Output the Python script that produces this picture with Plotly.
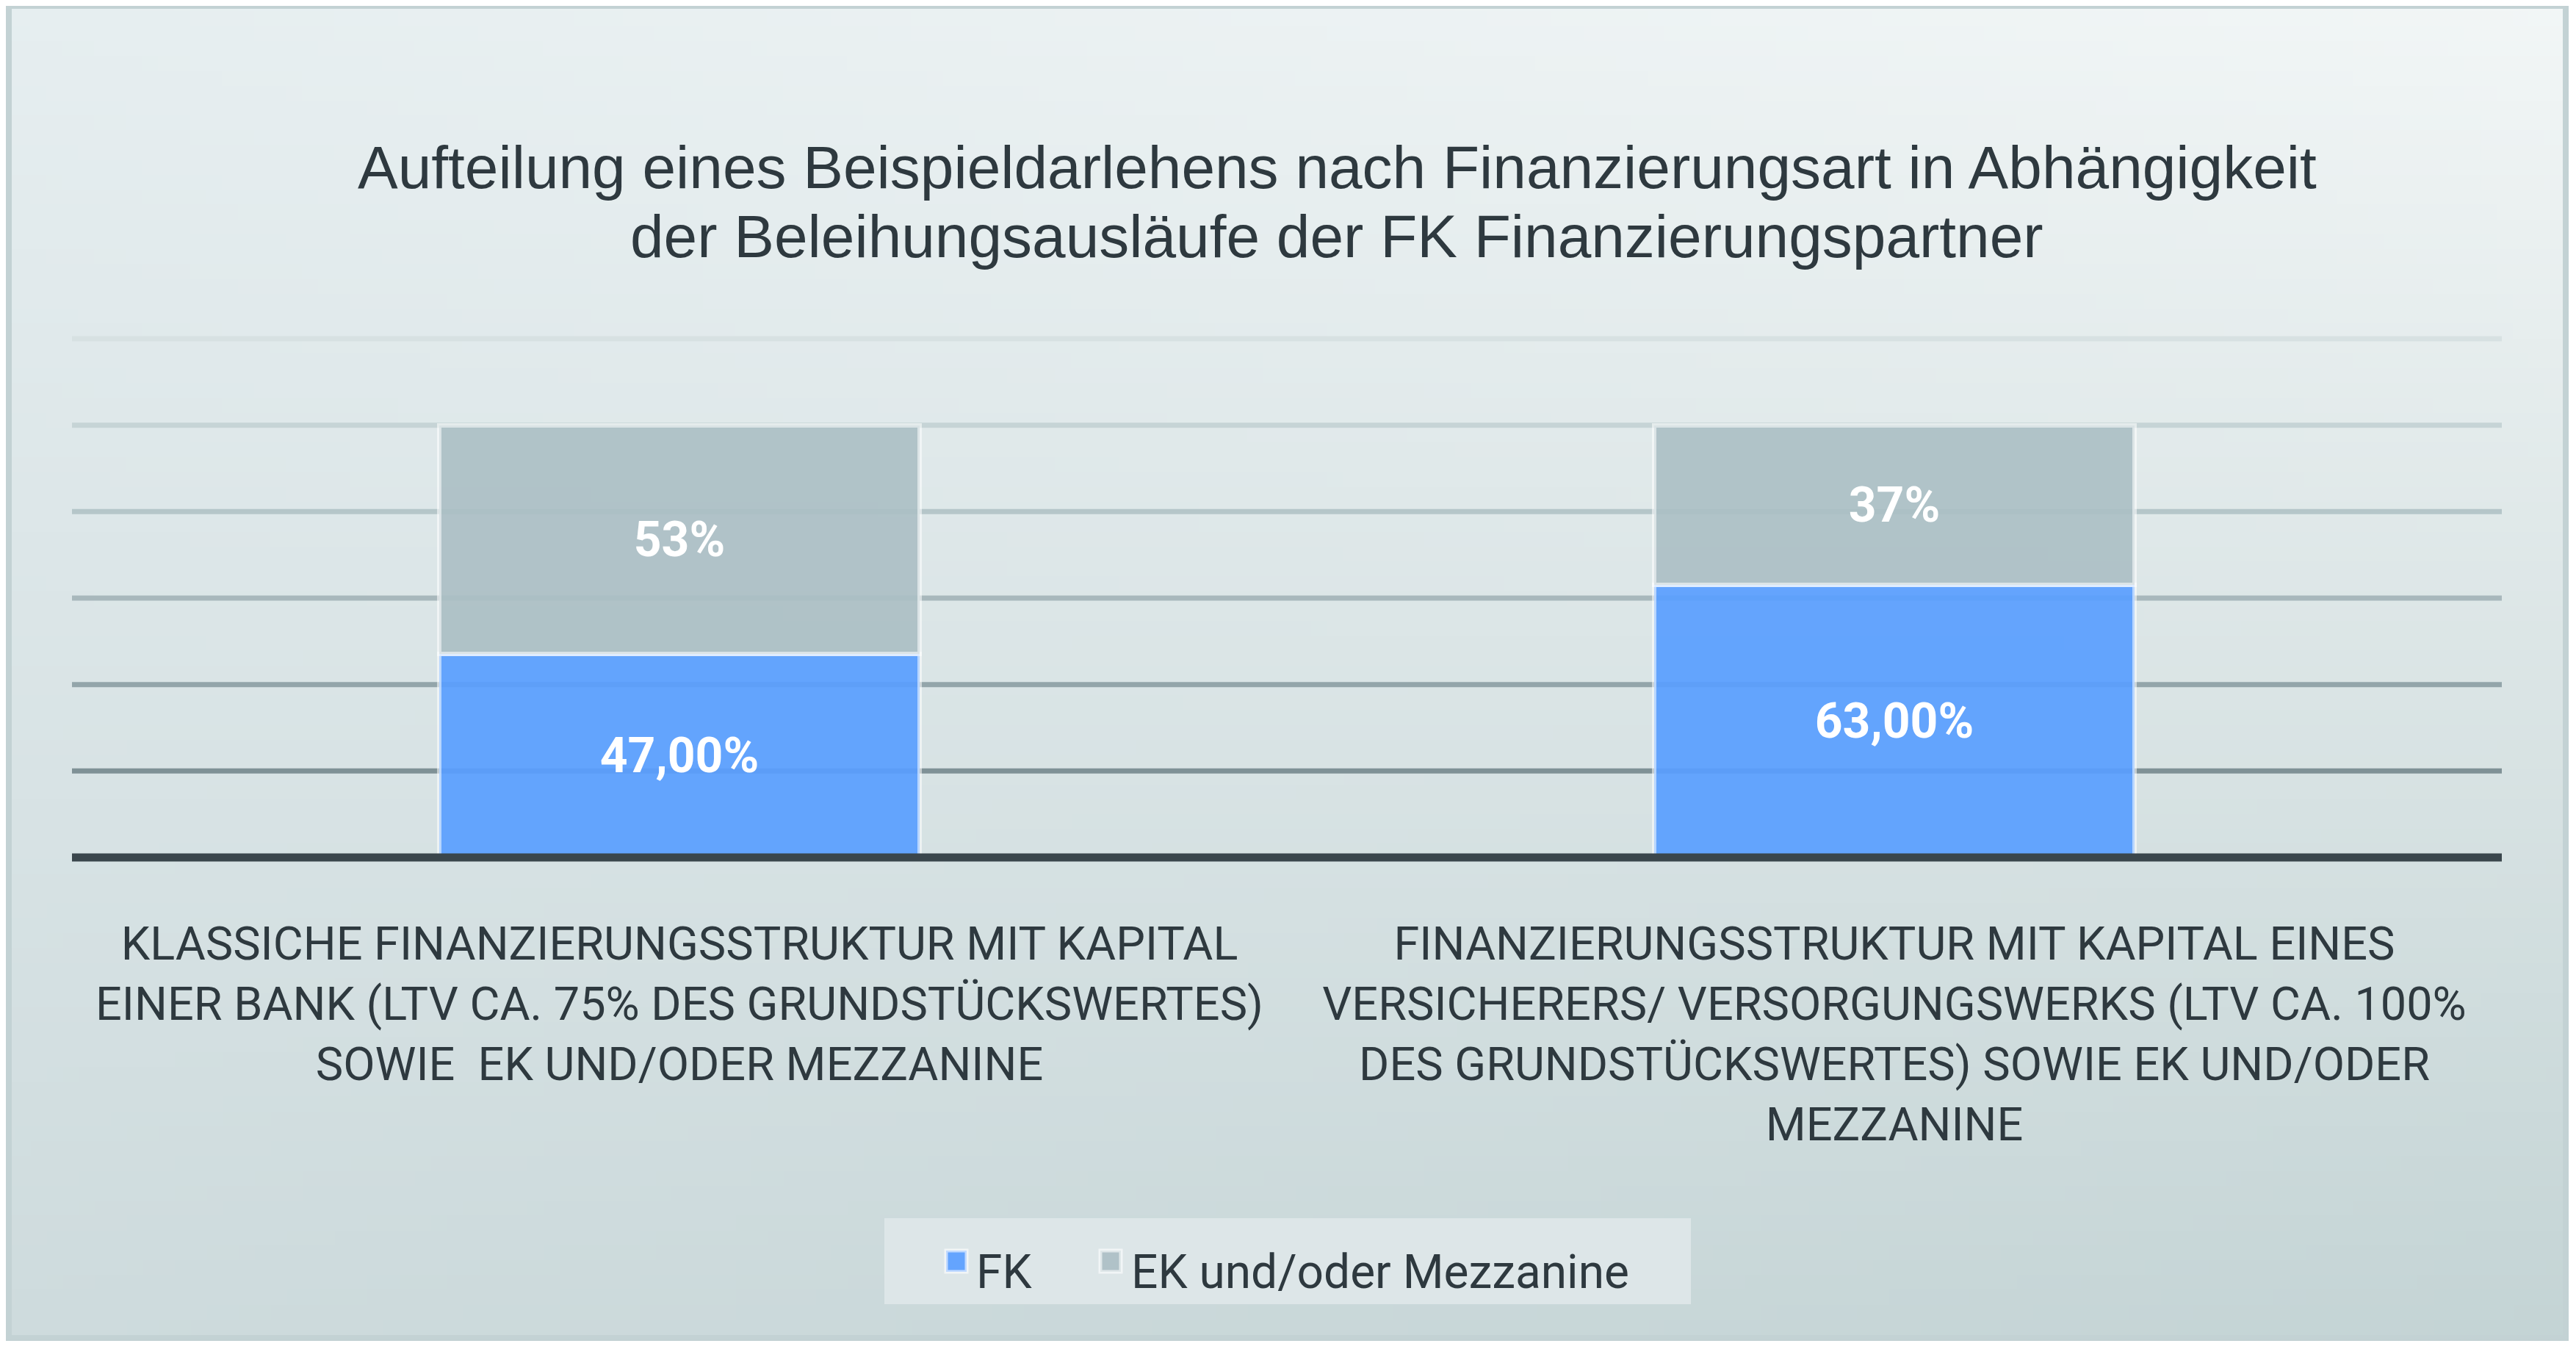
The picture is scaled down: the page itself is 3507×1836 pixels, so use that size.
import base64
import struct
import zlib
import plotly.graph_objects as go

# ---------------- data ----------------
categories = [
    "KLASSICHE FINANZIERUNGSSTRUKTUR MIT KAPITAL<br>EINER BANK (LTV CA. 75% DES GRUNDSTÜCKSWERTES)<br>SOWIE\u00a0 EK UND/ODER MEZZANINE",
    "FINANZIERUNGSSTRUKTUR MIT KAPITAL EINES<br>VERSICHERERS/ VERSORGUNGSWERKS (LTV CA. 100%<br>DES GRUNDSTÜCKSWERTES) SOWIE EK UND/ODER<br>MEZZANINE",
]
series_names = ["FK", "EK und/oder Mezzanine"]
fk_values = [0.47, 0.63]
ek_values = [0.53, 0.37]
fk_labels = ["47,00%", "63,00%"]
ek_labels = ["53%", "37%"]
y_ticks = [0.2, 0.4, 0.6, 0.8, 1.0, 1.2]
y_max = 1.2
title_lines = [
    "Aufteilung eines Beispieldarlehens nach Finanzierungsart in Abhängigkeit",
    "der Beleihungsausläufe der FK Finanzierungspartner",
]

# ---------------- styling ----------------
OFF = 8                      # page body margin of the html page
W, H = 3507 - OFF, 1836 - OFF
ML, MR, MT, MB = 98 - OFF, 101, 461 - OFF, 669
PW, PH = W - ML - MR, H - MT - MB
SANS = "Roboto, Liberation Sans, sans-serif"
ARIAL = "Liberation Sans, Arial, sans-serif"
TEXT_COL = "#2e393f"
FK_COL = "rgba(89,158,255,0.92)"
EK_COL = "rgba(171,191,196,0.92)"
EDGE_COL = "rgba(255,255,255,0.55)"
grid_colors = ["#7f9196", "#93a5aa", "#a8b8bc", "#b5c6c9", "#c6d4d6", "#d7e1e2"]


def xp(px):
    """reference-picture x pixel -> paper fraction"""
    return (px - OFF - ML) / PW


def yp(py):
    """reference-picture y pixel -> paper fraction"""
    return (H - MB - (py - OFF)) / PH


def gradient_png(w, h, tl, tr, bl, br):
    raw = bytearray()
    for j in range(h):
        v = j / (h - 1)
        raw.append(0)
        for i in range(w):
            u = i / (w - 1)
            for k in range(3):
                c = (tl[k] * (1 - u) * (1 - v) + tr[k] * u * (1 - v)
                     + bl[k] * (1 - u) * v + br[k] * u * v)
                raw.append(int(round(c)))

    def chunk(t, d):
        c = struct.pack(">I", len(d)) + t + d
        return c + struct.pack(">I", zlib.crc32(t + d) & 0xFFFFFFFF)

    png = (b"\x89PNG\r\n\x1a\n"
           + chunk(b"IHDR", struct.pack(">IIBBBBB", w, h, 8, 2, 0, 0, 0))
           + chunk(b"IDAT", zlib.compress(bytes(raw), 9))
           + chunk(b"IEND", b""))
    return "data:image/png;base64," + base64.b64encode(png).decode()


bg_src = gradient_png(160, 90,
                      (230, 238, 240), (242, 246, 246),
                      (206, 219, 221), (196, 212, 213))

bar_text_font = dict(family=SANS, size=66, color="white", weight="bold")

fig = go.Figure()
for name, vals, labels, col in [(series_names[0], fk_values, fk_labels, FK_COL),
                                (series_names[1], ek_values, ek_labels, EK_COL)]:
    fig.add_trace(go.Bar(
        name=name, x=categories, y=vals, text=labels,
        marker=dict(color=col, line=dict(color=EDGE_COL, width=6)),
        textposition="inside", insidetextanchor="middle", textangle=0,
        textfont=bar_text_font, hoverinfo="skip", showlegend=False,
    ))

# legend entries; their swatches are drawn larger as shapes below
for name, leg in [(series_names[0], "legend"), (series_names[1], "legend2")]:
    fig.add_trace(go.Scatter(
        name=name, x=[None], y=[None], mode="markers", legend=leg,
        marker=dict(symbol="square", size=16, color="rgba(0,0,0,0)",
                    line=dict(width=0)),
        hoverinfo="skip", showlegend=True,
    ))

shapes = []
# legend box
shapes.append(dict(type="rect", xref="paper", yref="paper",
                   x0=xp(1204), x1=xp(2302), y0=yp(1658), y1=yp(1775),
                   fillcolor="#dde6e8", line=dict(width=0), layer="below"))
# legend swatches
for col, x0 in [(FK_COL, 1288), (EK_COL, 1498)]:
    shapes.append(dict(type="rect", xref="paper", yref="paper",
                       x0=xp(x0), x1=xp(x0 + 28), y0=yp(1702), y1=yp(1731),
                       fillcolor=col, line=dict(color="rgba(255,255,255,0.6)", width=5),
                       layer="below"))
# gridlines
for yv, col in zip(y_ticks, grid_colors):
    shapes.append(dict(type="line", xref="paper", yref="paper", x0=0, x1=1,
                       y0=yv / y_max, y1=yv / y_max, line=dict(color=col, width=7),
                       layer="below"))
# axis line at 0
shapes.append(dict(type="line", xref="paper", yref="paper", x0=0, x1=1, y0=0, y1=0,
                   line=dict(color="#3a464c", width=11), layer="above"))
# frame border
shapes.append(dict(type="rect", xref="paper", yref="paper",
                   x0=xp(12), x1=xp(3493), y0=yp(8), y1=yp(1821),
                   line=dict(color="#c3d2d4", width=8), fillcolor="rgba(0,0,0,0)",
                   layer="below"))

annotations = []
for line, ypx in zip(title_lines, [228, 322]):
    annotations.append(dict(text=line, xref="paper", yref="paper",
                            x=xp(1820), y=yp(ypx), xanchor="center", yanchor="middle",
                            showarrow=False,
                            font=dict(family=ARIAL, size=82, color=TEXT_COL)))

legend_common = dict(orientation="h", xanchor="left", yanchor="middle",
                     bgcolor="rgba(0,0,0,0)", itemsizing="trace",
                     font=dict(family=SANS, size=64, color=TEXT_COL))

fig.update_layout(
    width=W, height=H,
    margin=dict(l=ML, r=MR, t=MT, b=MB, pad=0, autoexpand=False),
    paper_bgcolor="white",
    plot_bgcolor="rgba(0,0,0,0)",
    barmode="stack",
    bargap=0.605,
    showlegend=True,
    legend=dict(x=xp(1289), y=yp(1728), **legend_common),
    legend2=dict(x=xp(1500), y=yp(1728), **legend_common),
    images=[dict(source=bg_src, xref="paper", yref="paper",
                 x=xp(8), y=yp(4), sizex=(3497 - 8) / PW, sizey=(1825 - 4) / PH,
                 xanchor="left", yanchor="top", sizing="stretch", layer="below")],
    shapes=shapes,
    annotations=annotations,
    xaxis=dict(showgrid=False, showline=False, zeroline=False, ticks="",
               tickangle=0, automargin=False,
               tickfont=dict(family=SANS, size=63, color=TEXT_COL),
               ticklabelstandoff=75, fixedrange=True),
    yaxis=dict(range=[0, y_max], showgrid=False, zeroline=False, showline=False,
               showticklabels=False, ticks="", fixedrange=True, automargin=False),
)

fig.write_html("out.html")
